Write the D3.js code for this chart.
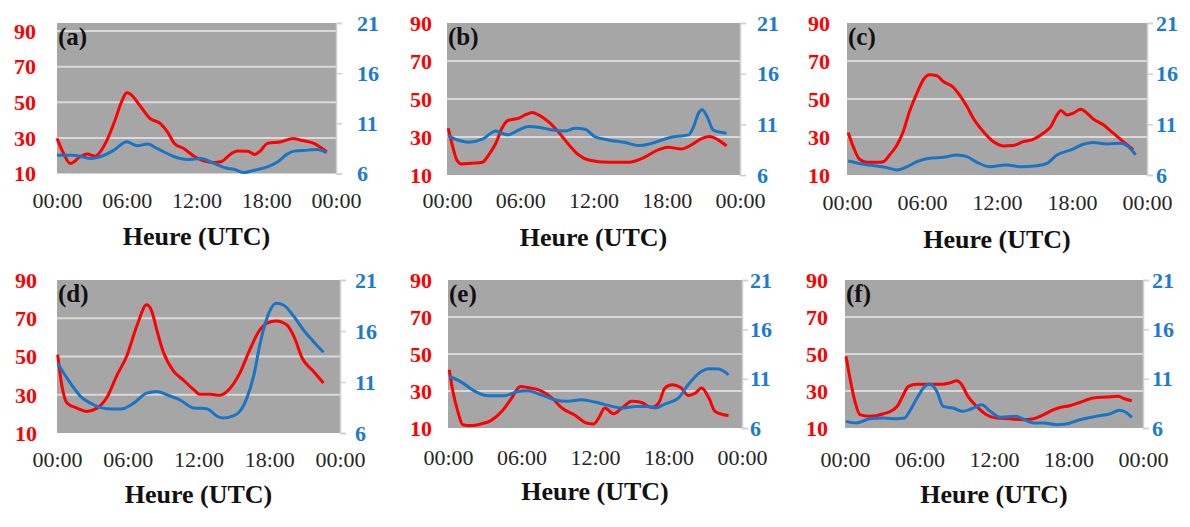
<!DOCTYPE html>
<html><head><meta charset="utf-8">
<script src="https://cdn.jsdelivr.net/npm/d3@7"></script>
<style>body{margin:0;background:#fff;} svg{display:block;}</style>
</head><body>
<svg id="chart" width="1190" height="527"></svg>
<script>
// ---------- data ----------
const panelLabels = ["(a)", "(b)", "(c)", "(d)", "(e)", "(f)"];
const xTickHours = [0, 6, 12, 18, 24];
const xTickLabels = ["00:00", "06:00", "12:00", "18:00", "00:00"];
const leftTicks = [10, 30, 50, 70, 90];
const rightTicks = [6, 11, 16, 21];
const xAxisTitle = "Heure (UTC)";
const leftMax = [94.5, 90, 90, 90, 90, 90];
const rightMax = 21;

// [hour, value] pairs: red = left axis, blue = right axis
const red_a = [[0,29.7],[0.57,21.2],[1.15,15.6],[2.0,19.4],[2.6,20.9],[3.3,19.7],[3.7,22],[4.3,28.7],[5.0,40],[5.6,51],[6.0,55.3],[6.3,54.6],[7.2,47.5],[8.0,40.9],[8.9,38],[9.5,33.4],[10.1,26.9],[10.9,24],[11.8,19.7],[12.6,17.1],[13.5,16.2],[14.1,16.6],[14.9,20.7],[15.5,22.7],[16.4,22.5],[17.0,20.7],[17.5,22.7],[18.1,26.9],[19.3,27.8],[20.3,29.7],[21.0,28.7],[22.1,26.9],[23.2,22.2]];
const blue_a = [[0,7.83],[1.4,7.83],[2.9,7.5],[3.7,7.67],[4.9,8.33],[6.0,9.17],[6.9,8.77],[7.8,8.93],[8.6,8.5],[10.1,7.67],[11.2,7.4],[12.4,7.5],[13.5,7.0],[14.7,6.5],[15.2,6.43],[16.1,6.1],[17.0,6.33],[18.1,6.67],[19.0,7.17],[19.8,7.93],[20.4,8.23],[21.6,8.33],[22.4,8.4],[23.2,8.07]];

const red_b = [[0.1,34.6],[0.4,26.7],[0.8,17.9],[1.2,15.8],[2.0,16.2],[2.9,16.7],[3.4,20.5],[4.0,26.7],[4.5,34.6],[5.0,38.7],[5.9,39.9],[6.4,41.6],[7.0,42.9],[7.5,41.6],[8.3,38.1],[9.1,32.9],[10.0,25.8],[10.8,20.5],[11.6,17.9],[13.2,16.7],[14.9,16.7],[16.0,18.8],[17.3,23.2],[18.1,24.6],[19.2,23.7],[20.0,25.8],[20.9,29.3],[21.5,30.2],[22.2,28.5],[22.9,25.3]];
const blue_b = [[0.1,9.86],[1.0,9.4],[1.8,9.23],[2.9,9.53],[4.0,10.35],[4.5,10.12],[5.0,9.96],[5.9,10.45],[6.7,10.78],[7.5,10.71],[8.6,10.45],[9.7,10.35],[10.5,10.62],[11.3,10.52],[12.1,9.79],[13.2,9.46],[14.6,9.2],[15.7,8.9],[16.5,9.03],[17.6,9.46],[18.7,9.79],[19.8,9.96],[20.2,10.78],[20.6,12.1],[20.9,12.43],[21.3,11.77],[21.8,10.45],[22.4,10.22],[22.9,10.12]];

const red_c = [[0.1,32.3],[0.5,24.9],[1.0,18.3],[1.6,16.7],[2.4,16.7],[2.9,17.0],[3.4,20.5],[4.0,25.8],[4.5,32.9],[5.0,43.4],[5.6,53.1],[6.1,60.1],[6.6,62.7],[7.2,62.2],[7.7,59.2],[8.5,56.2],[9.0,52.2],[9.6,46.0],[10.1,39.9],[10.9,32.9],[11.7,27.6],[12.5,25.3],[13.3,25.5],[14.1,27.6],[14.9,28.8],[15.7,32.0],[16.3,35.5],[16.8,41.6],[17.1,43.9],[17.6,41.6],[18.1,42.5],[18.7,44.6],[19.2,42.5],[19.7,39.5],[20.5,36.4],[21.3,32.0],[22.1,27.6],[22.9,23.2]];
const blue_c = [[0.1,7.38],[1.3,7.06],[2.4,6.89],[3.2,6.73],[4.0,6.49],[4.8,6.82],[5.6,7.32],[6.6,7.65],[7.7,7.75],[8.8,7.98],[9.6,7.81],[10.4,7.25],[11.4,6.82],[12.8,6.99],[13.8,6.82],[15.2,6.92],[16.0,7.15],[16.8,7.98],[17.9,8.47],[18.9,9.03],[19.7,9.2],[20.8,9.07],[21.9,9.13],[22.5,8.8],[23.1,7.98]];

const red_d = [[0.06,50.9],[0.4,35.2],[0.85,25.7],[1.7,23.0],[2.5,21.3],[3.4,23.0],[4.2,28.3],[5.1,40.4],[5.9,50],[6.8,66.5],[7.6,77],[8.0,74.3],[8.5,63],[9.0,52.6],[9.9,42.2],[10.7,37.8],[11.6,32.6],[12.1,30.3],[13.0,30.3],[13.8,29.7],[14.7,33.5],[15.5,41.3],[16.4,54.3],[17.2,63.9],[17.8,67.4],[18.6,68.6],[19.5,66.5],[20.1,60.4],[20.8,49.1],[21.7,42.5],[22.6,36.1]];
const blue_d = [[0.06,12.85],[0.85,11.38],[2.0,9.59],[3.1,8.77],[4.2,8.38],[5.4,8.35],[6.5,8.93],[7.6,9.91],[8.5,10.08],[9.3,9.75],[10.4,9.26],[11.6,8.45],[12.7,8.38],[13.6,7.63],[14.1,7.47],[15.0,7.7],[15.5,8.12],[16.1,9.42],[16.7,11.7],[17.2,14.64],[17.8,17.25],[18.6,18.72],[19.2,18.55],[20.1,17.41],[20.9,16.1],[21.7,15.03],[22.6,13.92]];

const red_e = [[0.1,41.5],[0.4,29.8],[0.8,19.0],[1.2,11.8],[1.9,11.3],[2.7,12.2],[3.5,14],[4.4,19],[5.2,26.2],[5.9,32.5],[6.5,31.9],[7.6,30.1],[8.5,26.2],[9.3,20.8],[10.4,16.8],[11.3,12.7],[11.9,12.2],[12.3,15.4],[12.8,20.8],[13.5,17.7],[14.2,20.8],[15.0,24.4],[15.8,23.8],[16.6,21.1],[17.2,23.5],[17.7,31.6],[18.3,33.4],[19.0,31.9],[19.6,27.6],[20.2,28.9],[20.7,31.6],[21.3,26.2],[21.8,19],[22.5,17.2],[22.9,16.8]];
const blue_e = [[0.1,11.22],[1.1,10.65],[2.2,9.71],[3.3,9.27],[4.6,9.27],[5.7,9.71],[6.5,9.78],[7.6,9.37],[8.7,8.86],[9.8,8.7],[10.9,8.86],[12.0,8.63],[13.1,8.29],[14.2,8.02],[15.3,8.19],[16.4,8.19],[16.9,8.02],[17.7,8.43],[18.8,9.03],[19.6,10.38],[20.5,11.56],[21.3,12.0],[22.1,11.97],[22.9,11.39]];

const red_f = [[0.08,48.7],[0.4,37],[0.8,24.4],[1.2,17.2],[2.0,16.3],[3.1,17.7],[3.9,19.9],[4.3,22.6],[4.7,28],[5.1,32.5],[5.8,33.7],[6.8,33.7],[7.9,33.7],[8.4,34.3],[9.0,35.5],[9.4,33.4],[9.9,27.1],[10.6,21.7],[11.4,17.2],[12.2,15.4],[13.3,15],[14.3,14.5],[15.2,15],[16.0,17.2],[16.8,19.9],[17.3,21.1],[18.1,22],[18.9,23.8],[20.0,26.2],[21.1,26.7],[22.0,27.1],[22.5,25.8],[23.1,24.7]];
const blue_f = [[0.08,6.67],[0.9,6.51],[2.0,6.94],[3.1,7.01],[4.2,6.94],[4.8,7.01],[5.2,7.69],[5.8,9.03],[6.3,10.04],[6.8,10.45],[7.4,9.71],[7.9,8.19],[8.7,8.02],[9.5,7.69],[10.2,7.95],[11.0,8.36],[11.7,7.69],[12.5,7.08],[13.8,7.18],[14.3,6.94],[15.2,6.51],[16.0,6.51],[17.0,6.34],[17.8,6.4],[18.9,6.84],[20.2,7.18],[21.3,7.42],[22.1,7.79],[22.7,7.52],[23.1,7.08]];

const redSeries = [red_a, red_b, red_c, red_d, red_e, red_f];
const blueSeries = [blue_a, blue_b, blue_c, blue_d, blue_e, blue_f];

// ---------- layout ----------
const layout = [
  {x0:57,  x1:336,  y0:23,  y1:173.5, lx:36,  rx:357,  tickY:208, titleY:245},
  {x0:447, x1:740,  y0:23,  y1:175,   lx:432, rx:757,  tickY:208, titleY:246},
  {x0:847, x1:1147, y0:23,  y1:175,   lx:830, rx:1156, tickY:210, titleY:248},
  {x0:57,  x1:340,  y0:280, y1:433,   lx:37,  rx:355,  tickY:467, titleY:503},
  {x0:448, x1:742,  y0:280, y1:428,   lx:432, rx:750,  tickY:465, titleY:500},
  {x0:845, x1:1143, y0:280, y1:428,   lx:828, rx:1152, tickY:467, titleY:503}
];
const FONT = "'Liberation Serif','Times New Roman',serif";
const RED = "#ff0000", BLUE = "#1a74c6", BLUE_TXT = "#1b7bd0";
const PLOT_BG = "#a6a6a6", GRID = "#d9d9d9";

const svg = d3.select("#chart");

layout.forEach((L, i) => {
  const g = svg.append("g");
  const w = L.x1 - L.x0, h = L.y1 - L.y0;
  const x = d3.scaleLinear().domain([0, 24]).range([L.x0, L.x1]);
  const yL = d3.scaleLinear().domain([10, leftMax[i]]).range([L.y1, L.y0]);
  const yR = d3.scaleLinear().domain([6, rightMax]).range([L.y1, L.y0]);

  g.append("rect").attr("x", L.x0).attr("y", L.y0).attr("width", w).attr("height", h)
    .attr("fill", PLOT_BG);

  // gridlines (left axis)
  g.selectAll(".grid").data(leftTicks.filter(v => v > 10 && v < leftMax[i] - 0.5))
    .enter().append("line")
    .attr("x1", L.x0).attr("x2", L.x1)
    .attr("y1", d => yL(d)).attr("y2", d => yL(d))
    .attr("stroke", GRID).attr("stroke-width", 2);

  // lines
  const lineL = d3.line().x(d => x(d[0])).y(d => yL(d[1])).curve(d3.curveMonotoneX);
  const lineR = d3.line().x(d => x(d[0])).y(d => yR(d[1])).curve(d3.curveMonotoneX);
  g.append("path").datum(redSeries[i]).attr("d", lineL)
    .attr("fill", "none").attr("stroke", RED).attr("stroke-width", 3).attr("stroke-linejoin", "round");
  g.append("path").datum(blueSeries[i]).attr("d", lineR)
    .attr("fill", "none").attr("stroke", BLUE).attr("stroke-width", 3).attr("stroke-linejoin", "round");

  // left axis
  const axL = g.append("g").attr("transform", `translate(${L.x0},0)`)
    .call(d3.axisLeft(yL).tickValues(leftTicks).tickSize(0).tickPadding(L.x0 - L.lx));
  axL.select(".domain").remove();
  axL.selectAll("text").attr("fill", RED).attr("font-family", FONT)
    .attr("font-size", 22).attr("font-weight", "bold").attr("dy", "0.33em");

  // right axis
  const axR = g.append("g").attr("transform", `translate(${L.x1},0)`)
    .call(d3.axisRight(yR).tickValues(rightTicks).tickSize(6).tickPadding(L.rx - L.x1 - 6));
  axR.select(".domain").attr("stroke", "#d0d0d0").attr("stroke-width", 1.5);
  axR.selectAll(".tick line").attr("stroke", "#d0d0d0").attr("stroke-width", 1.5);
  axR.selectAll("text").attr("fill", BLUE_TXT).attr("font-family", FONT)
    .attr("font-size", 22).attr("font-weight", "bold").attr("dy", "0.33em");

  // bottom axis
  const axB = g.append("g").attr("transform", `translate(0,${L.y1})`)
    .call(d3.axisBottom(x).tickValues(xTickHours).tickFormat((d, k) => xTickLabels[k]).tickSize(0));
  axB.select(".domain").remove();
  axB.selectAll("text").attr("fill", "#262626").attr("font-family", FONT)
    .attr("font-size", 22).attr("y", L.tickY - L.y1).attr("dy", 0);

  // axis title
  g.append("text").attr("x", (L.x0 + L.x1) / 2).attr("y", L.titleY)
    .attr("text-anchor", "middle").attr("font-family", FONT).attr("font-weight", "bold")
    .attr("font-size", 26).attr("fill", "#111").text(xAxisTitle);

  // panel label
  g.append("text").attr("x", L.x0 + 1).attr("y", L.y0 + 22)
    .attr("font-family", FONT).attr("font-weight", "bold").attr("font-size", 25)
    .attr("fill", "#111").text(panelLabels[i]);
});
</script>
</body></html>
